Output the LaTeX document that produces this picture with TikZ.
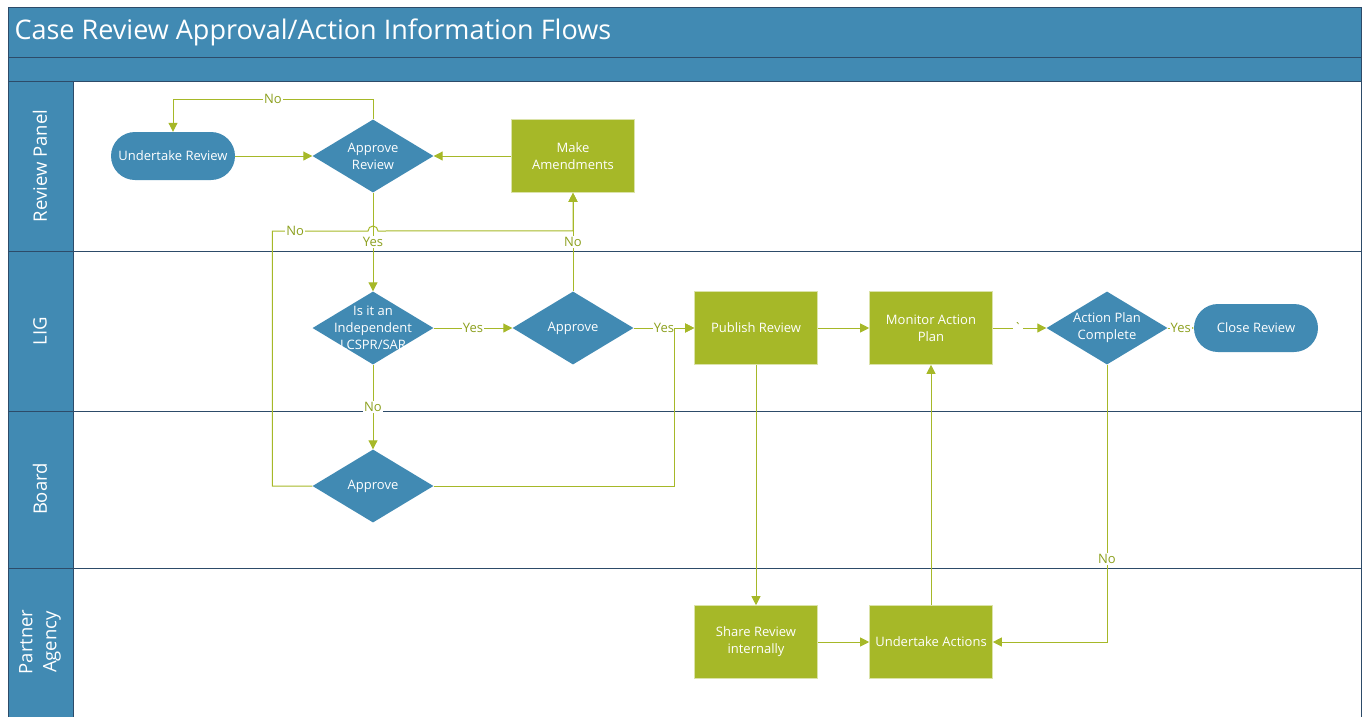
\documentclass[tikz,border=0pt]{standalone}
\usepackage{fontspec}
\setmainfont{Open Sans}
\usetikzlibrary{shapes.geometric, positioning, calc, arrows.meta}
\definecolor{flowblue}{RGB}{65,138,179}
\definecolor{flowgreen}{RGB}{166,184,40}
\definecolor{flowtext}{RGB}{140,160,30}
\definecolor{laneline}{RGB}{45,75,105}
\newcommand{\nodefont}{\fontsize{13}{17}\selectfont}

\begin{document}
\begin{tikzpicture}[x=1pt, y=-1pt,
    lanename/.style={rotate=90, text=white, font=\fontsize{18.5}{24}\selectfont, align=center},
    process/.style={rectangle, fill=flowgreen, draw=flowgreen!40!white, line width=0.6pt, minimum width=123pt, minimum height=73pt, text=white, font=\nodefont, align=center, inner sep=2pt},
    terminal/.style={rectangle, rounded corners=24pt, fill=flowblue, minimum width=124pt, minimum height=48pt, text=white, font=\nodefont},
    decision/.style={diamond, fill=flowblue, inner sep=0pt, minimum width=121pt, minimum height=73pt, label={[dtext]center:#1}},
    dtext/.style={text=white, font=\nodefont, align=center},
    arrow/.style={-{Triangle[length=9pt, width=9pt]}, line width=1pt, flowgreen},
    answer/.style={fill=white, text=flowtext, font=\nodefont, inner sep=1pt}
]
    \useasboundingbox (0,0) rectangle (1365,716);

    % Title bands and lane headers
    \fill[flowblue] (8,7) rectangle (1361,81);
    \fill[flowblue] (8,81) rectangle (73,720);
    \draw[laneline] (8,57) -- (1361,57);
    \draw[laneline] (8,81) -- (1361,81);
    \draw[laneline] (73,81) -- (73,720);
    \foreach \y in {251,411,568}
        \draw[laneline] (8,\y) -- (1361,\y);
    \draw[laneline] (8,7) rectangle (1361,720);
    \node[anchor=west, text=white, font=\fontsize{27}{32}\selectfont] (title) at (11,32) {Case Review Approval/Action Information Flows};

    \node[lanename] (panel) at (40,166) {Review Panel};
    \node[lanename] (lig) at (40,331) {LIG};
    \node[lanename] (board) at (40,489) {Board};
    \node[lanename] (partner) at (40,642) {Partner\\Agency};

    % Nodes
    \node[terminal] (undertake) at (173,156) {Undertake Review};
    \node[decision={Approve\\Review}] (apprev) at (373,156) {};
    \node[process] (amend) at (573,156) {Make\\Amendments};
    \node[decision={Is it an\\Independent\\LCSPR/SAR}] (indep) at (373,328) {};
    \node[decision={Approve}] (ligappr) at (573,328) {};
    \node[process] (publish) at (756,328) {Publish Review};
    \node[process] (monitor) at (931,328) {Monitor Action\\Plan};
    \node[decision={Action Plan\\Complete}] (complete) at (1107,328) {};
    \node[terminal] (close) at (1256,328) {Close Review};
    \node[decision={Approve}] (brdappr) at (373,486) {};
    \node[process] (share) at (756,642) {Share Review\\internally};
    \node[process] (actions) at (931,642) {Undertake Actions};

    % Arrows
    \draw[arrow] (undertake) -- (apprev);
    \draw[arrow] (apprev.north) -- ++(0,-20) -| node[answer, pos=0.25] {No} (undertake.north);
    \draw[arrow] (amend) -- (apprev);
    \draw[arrow] (apprev.south) -- node[answer, pos=0.5] {Yes} (indep.north);
    \draw[arrow] (ligappr.north) -- node[answer, pos=0.5] {No} (amend.south);
    \draw[arrow] (brdappr.west) -- ++(-40,0) |- node[answer, pos=0.62] {No} (368,231)
        arc[start angle=180, end angle=360, radius=5] -- ($(amend.south)+(0,38)$) -- (amend.south);
    \draw[arrow] (indep.east) -- node[answer, pos=0.5] {Yes} (ligappr.west);
    \draw[arrow] (ligappr.east) -- node[answer, pos=0.5] {Yes} (publish.west);
    \draw[arrow] (indep.south) -- node[answer, pos=0.5] {No} (brdappr.north);
    \draw[arrow] (brdappr.east) -| ($(publish.west)+(-20,0)$) -- (publish.west);
    \draw[arrow] (publish) -- (monitor);
    \draw[arrow] (monitor) -- node[answer, pos=0.47] {\textasciigrave} (complete);
    \draw[arrow] (complete) -- node[answer, pos=0.5] {Yes} (close);
    \draw[arrow] (complete.south) |- node[answer, pos=0.35] {No} (actions.east);
    \draw[arrow] (publish.south) -- (share.north);
    \draw[arrow] (share) -- (actions);
    \draw[arrow] (actions.north) -- (monitor.south);
\end{tikzpicture}
\end{document}
